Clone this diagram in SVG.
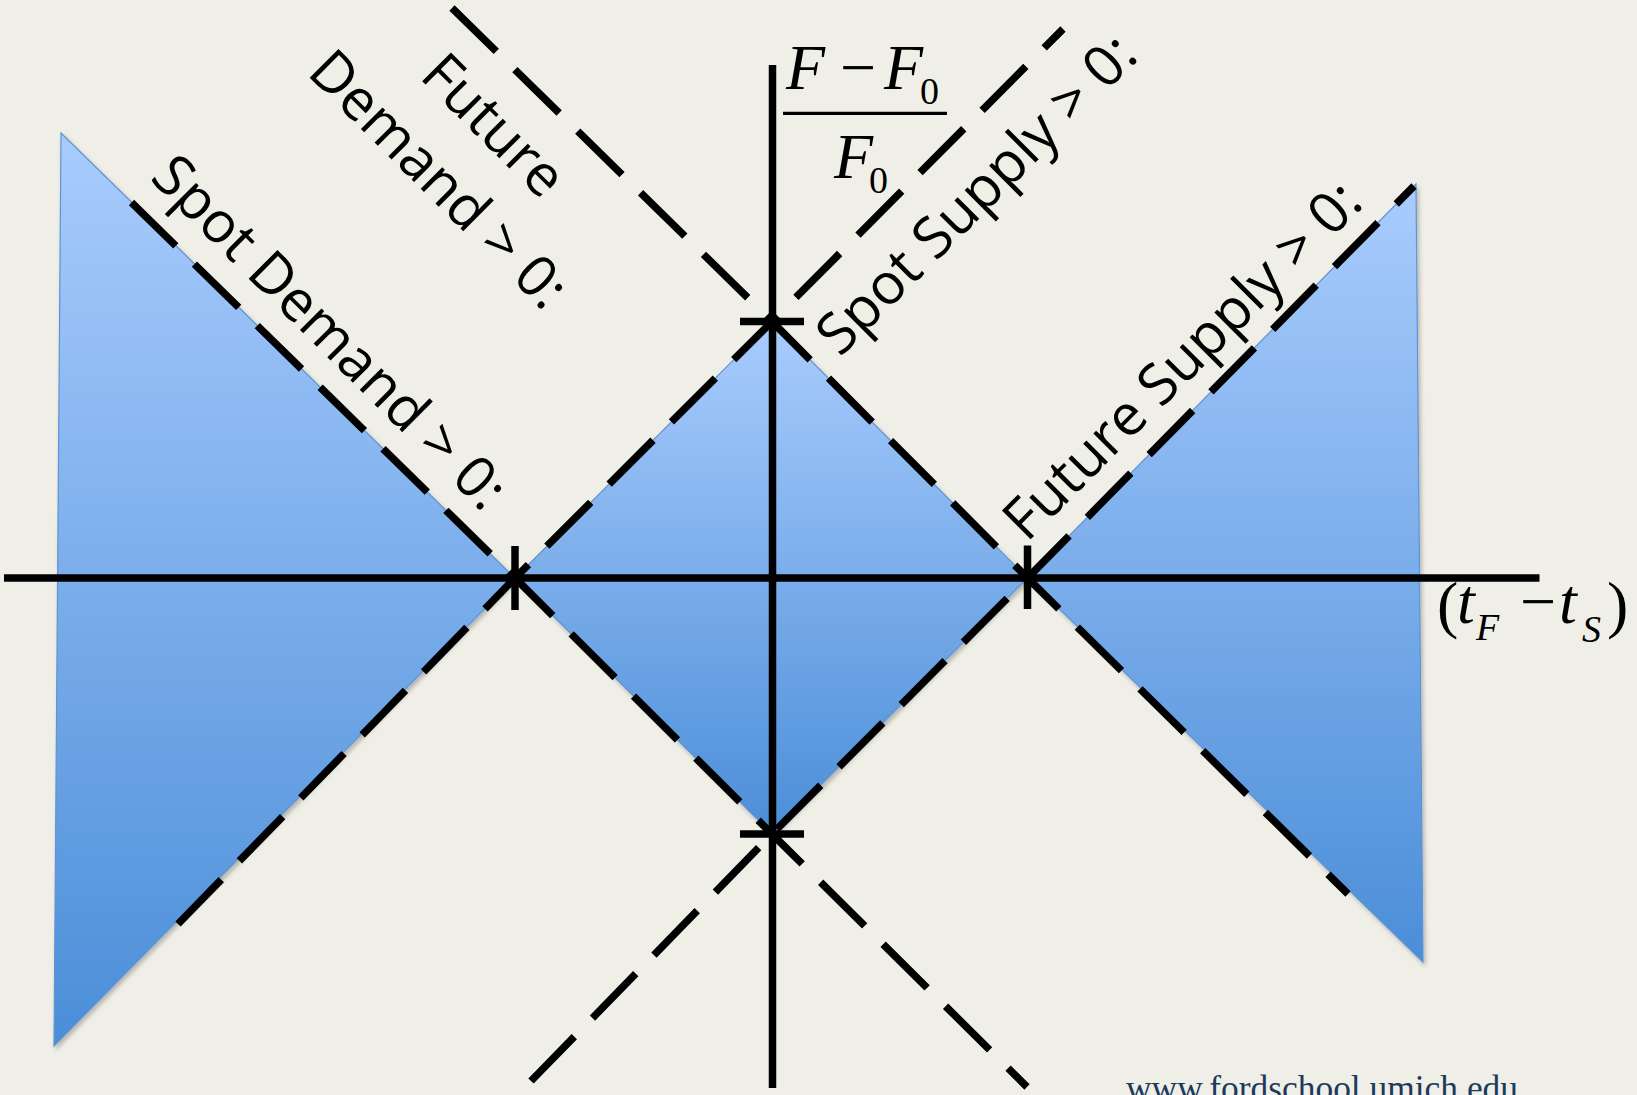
<svg xmlns="http://www.w3.org/2000/svg" width="1637" height="1095" viewBox="0 0 1637 1095">
  <defs>
    <linearGradient id="blueGrad" x1="0" y1="0" x2="0" y2="1">
      <stop offset="0" stop-color="#a9ccfd"/>
      <stop offset="1" stop-color="#4b8ed8"/>
    </linearGradient>
    <filter id="shadow" x="-10%" y="-10%" width="120%" height="120%">
      <feDropShadow dx="2" dy="3" stdDeviation="2" flood-color="#000" flood-opacity="0.25"/>
    </filter>
    <style>
      .region { fill: url(#blueGrad); stroke: #5f93d3; stroke-width: 1.2; filter: url(#shadow); }
      .axis { stroke: #000; stroke-width: 7.5; fill: none; }
      .dash { stroke: #000; stroke-width: 7.5; fill: none; stroke-dasharray: 62 26; stroke-linecap: butt; }
      .tick { stroke: #000; stroke-width: 7.5; fill: none; }
      .lbl { font-family: "Open Sans", "DejaVu Sans", sans-serif; font-size: 57px; fill: #000; text-anchor: middle; }
      .math { font-family: "Liberation Serif", "Times New Roman", serif; fill: #000; }
      .it { font-style: italic; }
    </style>
  </defs>
  <rect width="1637" height="1095" fill="#f0efe7"/>

  <g id="region-left"><polygon class="region" points="61,133 515,578 54,1046"/></g>
  <g id="region-center"><polygon class="region" points="515,578 772,321.5 1027.5,578 772,834"/></g>
  <g id="region-right"><polygon class="region" points="1416,184 1027.5,578 1423,962"/></g>

  <g id="axes">
    <line class="axis" x1="772.5" y1="65" x2="772.5" y2="1088"/>
    <line class="axis" x1="4" y1="578" x2="1539.5" y2="578"/>
  </g>

  <g id="connectors">
    <path id="spot-demand-line" class="dash" d="M131.5,202.5 L515,578 L772,834 L1027,1087"/>
    <path id="future-demand-line" class="dash" d="M452,8 L772,321.5 L1027.5,578 L1348,894"/>
    <path id="spot-supply-line" class="dash" d="M178,924 L515,578 L772,321.5 L1063,29"/>
    <path id="future-supply-line" class="dash" d="M531,1081 L772,834 L1027.5,578 L1414,186"/>
  </g>

  <g id="ticks">
    <line class="tick" x1="515" y1="546" x2="515" y2="610"/>
    <line class="tick" x1="1027.5" y1="545.5" x2="1027.5" y2="609"/>
    <line class="tick" x1="740" y1="321.5" x2="804" y2="321.5"/>
    <line class="tick" x1="740" y1="834" x2="804" y2="834"/>
  </g>

  <g id="label-spot-demand">
    <text class="lbl" transform="translate(316,346) rotate(45)">Spot Demand &gt; 0:</text>
  </g>
  <g id="label-future-demand">
    <text class="lbl" transform="translate(480,139) rotate(45)">Future</text>
    <text class="lbl" transform="translate(425,193) rotate(45)">Demand &gt; 0:</text>
  </g>
  <g id="label-spot-supply">
    <text class="lbl" transform="translate(990,208) rotate(-45)">Spot Supply &gt; 0:</text>
  </g>
  <g id="label-future-supply">
    <text class="lbl" transform="translate(1196,374) rotate(-45)">Future Supply &gt; 0:</text>
  </g>

  <g id="label-y-axis">
    <text class="math it" x="786" y="89" font-size="64">F</text>
    <text class="math" x="858" y="89" font-size="64" text-anchor="middle">−</text>
    <text class="math it" x="884" y="89" font-size="64">F</text>
    <text class="math" x="920" y="104" font-size="38">0</text>
    <line x1="783" y1="113.3" x2="947" y2="113.3" stroke="#000" stroke-width="3.3"/>
    <text class="math it" x="834" y="178" font-size="64">F</text>
    <text class="math" x="869" y="193" font-size="38">0</text>
  </g>

  <g id="label-x-axis">
    <text class="math" x="1437" y="626" font-size="64">(</text>
    <text class="math it" x="1457" y="623" font-size="64">t</text>
    <text class="math it" x="1476" y="640" font-size="38">F</text>
    <text class="math" x="1538" y="623" font-size="64" text-anchor="middle">−</text>
    <text class="math it" x="1559" y="623" font-size="64">t</text>
    <text class="math it" x="1582" y="642" font-size="38">S</text>
    <text class="math" x="1607" y="626" font-size="64">)</text>
  </g>

  <g id="footer">
    <text x="1126" y="1100" font-family="'Palatino Linotype', 'Liberation Serif', serif" font-size="35" fill="#1b3a5c" textLength="392" lengthAdjust="spacingAndGlyphs">www.fordschool.umich.edu</text>
  </g>
</svg>
